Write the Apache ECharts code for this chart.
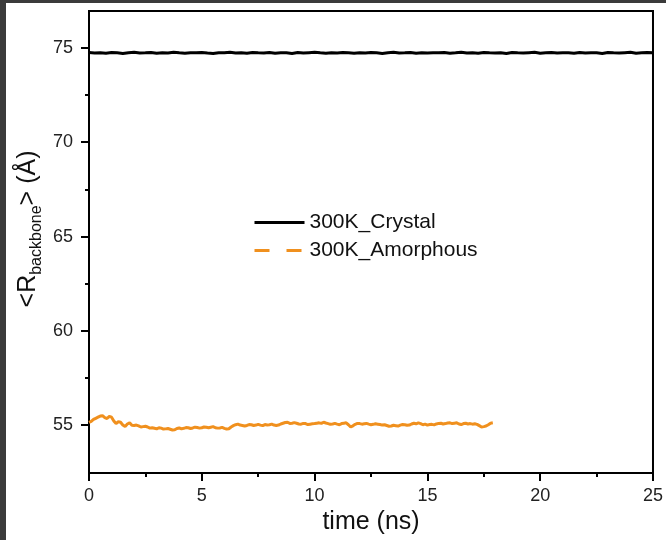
<!DOCTYPE html>
<html>
<head>
<meta charset="utf-8">
<script src="https://cdn.jsdelivr.net/npm/echarts@6/dist/echarts.min.js"></script>
<style>
html,body{margin:0;padding:0;background:#fff;}
#chart{width:666px;height:540px;}
</style>
</head>
<body>
<div id="chart"></div>
<script>
// ---- data ----
const seriesNames = ['300K_Crystal', '300K_Amorphous'];
const crystalStep = 0.25; // ns between samples
const crystalValues = [
74.76,74.73,74.75,74.72,74.76,74.74,74.71,74.75,74.77,74.73,
74.74,74.76,74.72,74.75,74.73,74.77,74.74,74.72,74.75,74.74,
74.76,74.73,74.71,74.75,74.74,74.77,74.73,74.75,74.72,74.76,
74.74,74.73,74.76,74.72,74.75,74.74,74.71,74.76,74.73,74.75,
74.77,74.74,74.72,74.75,74.73,74.76,74.74,74.72,74.75,74.73,
74.76,74.74,74.71,74.75,74.77,74.73,74.74,74.76,74.72,74.75,
74.73,74.75,74.74,74.76,74.72,74.74,74.77,74.73,74.75,74.72,
74.76,74.74,74.73,74.75,74.71,74.76,74.74,74.73,74.75,74.77,
74.72,74.74,74.76,74.73,74.75,74.74,74.72,74.76,74.73,74.75,
74.74,74.71,74.76,74.74,74.73,74.75,74.77,74.72,74.74,74.76,
74.75
];
const amorphousStep = 0.1; // ns between samples
const amorphousValues = [
55.15,55.20,55.30,55.36,55.42,55.48,55.50,55.40,55.35,55.46,
55.42,55.22,55.08,55.18,55.15,55.00,54.92,55.06,55.12,54.99,
54.98,55.00,54.96,54.90,54.92,54.94,54.90,54.84,54.86,54.83,
54.80,54.86,54.84,54.79,54.80,54.82,54.78,54.74,54.75,54.82,
54.85,54.80,54.83,54.87,54.86,54.82,54.85,54.89,54.87,54.84,
54.86,54.90,54.89,54.86,54.89,54.92,54.86,54.84,54.85,54.88,
54.83,54.79,54.81,54.90,54.97,55.02,55.05,55.00,54.98,54.95,
54.98,55.03,55.02,54.98,55.00,55.04,55.00,54.97,55.03,55.01,
55.02,55.05,55.00,54.98,55.00,55.06,55.10,55.14,55.15,55.09,
55.10,55.13,55.10,55.06,55.05,55.09,55.08,55.03,55.05,55.07,
55.08,55.10,55.12,55.09,55.15,55.11,55.08,55.04,55.06,55.09,
55.05,55.02,55.08,55.10,55.12,55.02,54.90,54.96,55.04,55.09,
55.08,55.05,55.07,55.09,55.05,55.02,55.04,55.07,55.05,55.03,
55.00,55.02,54.98,54.94,54.95,54.99,54.97,54.95,55.00,55.03,
55.02,54.99,55.00,55.06,55.10,55.07,55.12,55.08,55.02,55.05,
55.00,55.03,55.04,55.01,55.06,55.09,55.10,55.06,55.08,55.11,
55.12,55.08,55.10,55.12,55.06,55.03,55.08,55.10,55.06,55.08,
55.05,55.07,55.04,54.97,54.90,54.92,54.95,55.02,55.10,55.12
];
const xTicks = [0, 5, 10, 15, 20, 25];
const yTicks = [55, 60, 65, 70, 75];
const yMinorTicks = [57.5, 62.5, 67.5, 72.5];

// ---- build ----
const crystalData = crystalValues.map((v, i) => [+(i * crystalStep).toFixed(3), v]);
const amorphousData = amorphousValues.map((v, i) => [+(i * amorphousStep).toFixed(3), v]);

const FONT = 'Liberation Sans, Arial, sans-serif';
const ORANGE = '#F0901E';
const chart = echarts.init(document.getElementById('chart'), null, {renderer: 'canvas'});
chart.setOption({
  animation: false,
  backgroundColor: '#ffffff',
  grid: {
    left: 89, top: 11, right: 6, bottom: 66,
    show: true, borderColor: '#000', borderWidth: 2, backgroundColor: 'transparent'
  },
  legend: {
    orient: 'vertical', left: 253, top: 212, padding: 0,
    itemWidth: 50, itemHeight: 14, itemGap: 7,
    textStyle: {fontFamily: FONT, fontSize: 21, color: '#111'},
    data: [
      {name: seriesNames[0], itemStyle: {opacity: 0}, lineStyle: {width: 3, color: '#000'}},
      {name: seriesNames[1], itemStyle: {opacity: 0}, lineStyle: {width: 3, color: ORANGE, type: [15, 17]}}
    ]
  },
  xAxis: {
    type: 'value', min: xTicks[0], max: xTicks[xTicks.length - 1], interval: 5,
    axisLine: {show: true, onZero: false, lineStyle: {color: '#000', width: 2}},
    axisTick: {show: true, length: 8, lineStyle: {color: '#000', width: 2}},
    minorTick: {show: true, splitNumber: 2, length: 4, lineStyle: {color: '#000', width: 2}},
    splitLine: {show: false},
    axisLabel: {margin: 14, fontFamily: FONT, fontSize: 18, color: '#222'},
    name: 'time (ns)', nameLocation: 'middle', nameGap: 37,
    nameTextStyle: {fontFamily: FONT, fontSize: 25, color: '#111'}
  },
  yAxis: [
    {
      type: 'value', min: 52.46, max: 76.96,
      axisLine: {show: true, onZero: false, lineStyle: {color: '#000', width: 2}},
      axisTick: {show: true, length: 8, customValues: yTicks, lineStyle: {color: '#000', width: 2}},
      splitLine: {show: false},
      axisLabel: {margin: 16, customValues: yTicks, fontFamily: FONT, fontSize: 18, color: '#222'}
    },
    {
      type: 'value', min: 52.46, max: 76.96, position: 'left', offset: 0,
      axisLine: {show: false},
      axisTick: {show: true, length: 4, customValues: yMinorTicks, lineStyle: {color: '#000', width: 2}},
      splitLine: {show: false},
      axisLabel: {show: false}
    }
  ],
  graphic: [
    {type: 'rect', shape: {x: 0, y: 0, width: 6, height: 540}, style: {fill: '#3b3b3b'}, z: 100},
    {type: 'rect', shape: {x: 0, y: 0, width: 666, height: 3}, style: {fill: '#3b3b3b'}, z: 100},
    {
      type: 'text', x: 28, y: 229, rotation: Math.PI / 2, z: 100,
      style: {
        text: '{a|<R}{b|backbone}{a|> (Å)}',
        align: 'center', verticalAlign: 'middle',
        rich: {
          a: {fontFamily: FONT, fontSize: 25, lineHeight: 34, fill: '#111', verticalAlign: 'middle'},
          b: {fontFamily: FONT, fontSize: 16, lineHeight: 18, fill: '#111', verticalAlign: 'bottom'}
        }
      }
    }
  ],
  series: [
    {
      name: seriesNames[0], type: 'line', data: crystalData, showSymbol: false, symbol: 'none',
      lineStyle: {color: '#000', width: 3}, itemStyle: {color: '#000'}, z: 3
    },
    {
      name: seriesNames[1], type: 'line', data: amorphousData, showSymbol: false, symbol: 'none',
      lineStyle: {color: ORANGE, width: 3}, itemStyle: {color: ORANGE}, z: 2
    }
  ]
});
</script>
</body>
</html>
